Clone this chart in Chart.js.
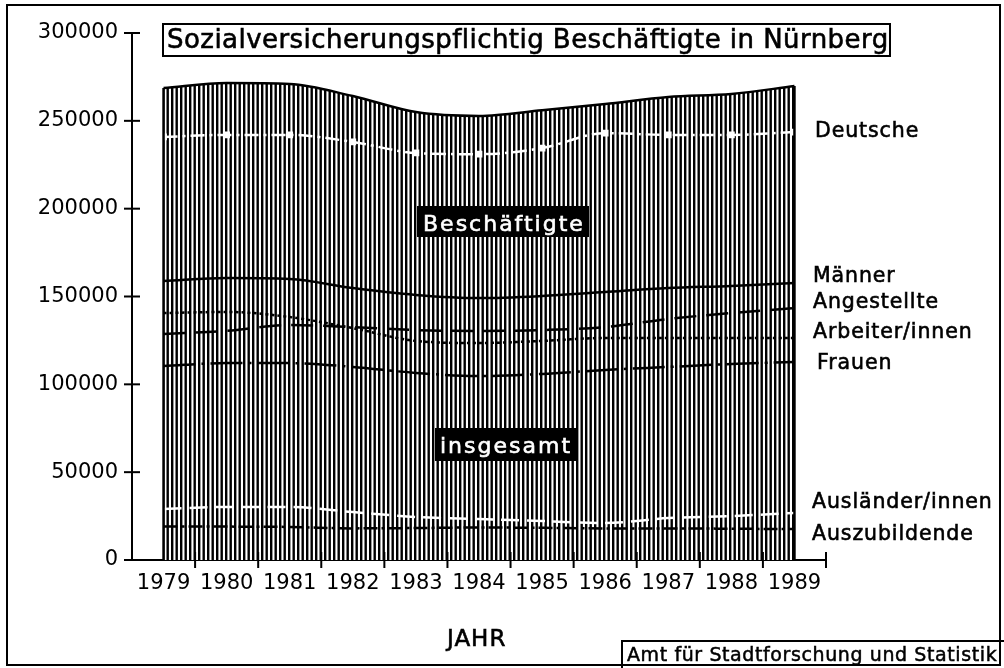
<!DOCTYPE html>
<html>
<head>
<meta charset="utf-8">
<script src="https://cdn.jsdelivr.net/npm/chart.js@4.4.1/dist/chart.umd.min.js"></script>
<style>
  body { margin: 0; background: #fff; }
  #wrap { width: 1004px; height: 668px; }
</style>
</head>
<body>
<div id="wrap"><canvas id="chart"></canvas></div>
<script>
// values
const years = ['1979', '1980', '1981', '1982', '1983', '1984', '1985', '1986', '1987', '1988', '1989'];
const insgesamt = [268700, 271500, 271000, 264100, 255000, 252800, 256000, 259600, 263600, 265300, 269800];
const deutsche = [240800, 242000, 242000, 238000, 231700, 231000, 234500, 243000, 242000, 242000, 243600];
const maenner = [158800, 160500, 160000, 154800, 150900, 149100, 150300, 152600, 154800, 156000, 157700];
const angestellte = [128700, 130400, 133800, 132600, 130900, 130400, 130900, 132600, 137200, 140600, 143400];
const arbeiter = [140600, 141200, 138300, 132000, 124700, 123500, 124700, 126400, 126400, 126400, 126400];
const frauen = [110400, 112100, 112100, 109900, 106500, 104700, 105900, 108200, 109900, 111600, 112700];
const auslaender = [29000, 30200, 30200, 27300, 24500, 23300, 22200, 21000, 23900, 25000, 26800];
const azubis = [19000, 19000, 18800, 18000, 18200, 18500, 18300, 18000, 18000, 17800, 17600];
const yTicks = [0, 50000, 100000, 150000, 200000, 250000, 300000];

const FONT = '"DejaVu Sans", sans-serif';

// vertical hatching for the total area
const hatchCanvas = document.createElement('canvas');
hatchCanvas.width = 9;
hatchCanvas.height = 4;
const hctx = hatchCanvas.getContext('2d');
hctx.fillStyle = '#fff';
hctx.fillRect(0, 0, 9, 4);
hctx.fillStyle = '#000';
hctx.fillRect(0, 0, 2.4, 4);
hctx.fillRect(4.5, 0, 2.4, 4);
const hatch = hctx.createPattern(hatchCanvas, 'repeat');

function lineSet(label, data, color, dash, width, extra) {
  return Object.assign({
    label: label,
    data: data,
    borderColor: color,
    borderWidth: width,
    borderDash: dash,
    pointRadius: 0,
    fill: false,
    cubicInterpolationMode: 'monotone'
  }, extra || {});
}

function text(ctx, s, x, y) {
  ctx.fillText(s, x, y);
  ctx.strokeText(s, x, y);
}

// boxed texts, axis tick crosses, area edges
const decorations = {
  id: 'decorations',
  afterDatasetsDraw(chart) {
    const ctx = chart.ctx;
    const y = chart.scales.y;
    const area = chart.getDatasetMeta(chart.data.datasets.length - 1).data;
    ctx.save();
    ctx.strokeStyle = '#000';
    ctx.lineWidth = 2.5;
    [0, area.length - 1].forEach(i => {
      ctx.beginPath();
      ctx.moveTo(area[i].x, area[i].y);
      ctx.lineTo(area[i].x, y.getPixelForValue(0));
      ctx.stroke();
    });
    ctx.restore();
  },
  afterDraw(chart) {
    const ctx = chart.ctx;
    const x = chart.scales.x, y = chart.scales.y;
    const ca = chart.chartArea;
    ctx.save();
    ctx.strokeStyle = '#000';
    ctx.lineWidth = 2;
    // y tick crosses
    yTicks.forEach(v => {
      const py = y.getPixelForValue(v);
      ctx.beginPath();
      ctx.moveTo(ca.left - 8, py);
      ctx.lineTo(ca.left + 8, py);
      ctx.stroke();
    });
    // x tick crosses at bin edges
    const step = x.getPixelForValue(1) - x.getPixelForValue(0);
    for (let i = 1; i <= years.length; i++) {
      const px = x.getPixelForValue(0) - step / 2 + i * step;
      ctx.beginPath();
      ctx.moveTo(px, ca.bottom - 8);
      ctx.lineTo(px, ca.bottom + 8);
      ctx.stroke();
    }
    // outer frame
    ctx.strokeRect(7, 5, 993, 660);

    ctx.textBaseline = 'alphabetic';
    ctx.textAlign = 'left';
    // title
    ctx.fillStyle = '#fff';
    ctx.fillRect(163, 24, 727, 32);
    ctx.strokeRect(163, 24, 727, 32);
    ctx.font = '26px ' + FONT;
    ctx.letterSpacing = '0.45px';
    ctx.fillStyle = '#000';
    ctx.lineWidth = 0.6;
    text(ctx, 'Sozialversicherungspflichtig Beschäftigte in Nürnberg', 167, 48);

    // black label boxes in the area
    ctx.fillStyle = '#000';
    ctx.fillRect(417, 206, 172, 31);
    ctx.fillRect(435, 428, 142, 33);
    ctx.font = '22px ' + FONT;
    ctx.letterSpacing = '2px';
    ctx.fillStyle = '#fff';
    ctx.strokeStyle = '#fff';
    text(ctx, 'Beschäftigte', 423, 231);
    text(ctx, 'insgesamt', 440, 453);

    // series names
    ctx.fillStyle = '#000';
    ctx.strokeStyle = '#000';
    ctx.font = '20.5px ' + FONT;
    ctx.letterSpacing = '0.9px';
    text(ctx, 'Deutsche', 815, 137);
    text(ctx, 'Männer', 813, 282);
    text(ctx, 'Angestellte', 813, 308);
    text(ctx, 'Arbeiter/innen', 813, 338);
    text(ctx, 'Frauen', 817, 369);
    text(ctx, 'Ausländer/innen', 812, 508);
    text(ctx, 'Auszubildende', 812, 540);

    // axis title and source
    ctx.font = '23px ' + FONT;
    ctx.letterSpacing = '1px';
    text(ctx, 'JAHR', 447, 646);
    ctx.lineWidth = 2;
    ctx.strokeRect(622, 641, 400, 30);
    ctx.font = '19px ' + FONT;
    ctx.letterSpacing = '0.6px';
    ctx.lineWidth = 0.5;
    text(ctx, 'Amt für Stadtforschung und Statistik', 627, 661);
    ctx.restore();
  }
};

new Chart(document.getElementById('chart').getContext('2d'), {
  type: 'line',
  data: {
    labels: years,
    datasets: [
      lineSet('Deutsche', deutsche, '#fff', [14, 5, 3, 5], 2.5,
        { pointRadius: 3, pointStyle: 'rect', pointBackgroundColor: '#fff', pointBorderColor: '#fff' }),
      lineSet('Männer', maenner, '#000', [], 2.5),
      lineSet('Angestellte', angestellte, '#000', [22, 10], 2.5),
      lineSet('Arbeiter/innen', arbeiter, '#000', [3, 3], 2.5),
      lineSet('Frauen', frauen, '#000', [32, 6, 3, 6], 2.5),
      lineSet('Ausländer/innen', auslaender, '#fff', [18, 8], 2.5),
      lineSet('Auszubildende', azubis, '#000', [14, 4, 3, 4], 2.5),
      {
        label: 'insgesamt',
        data: insgesamt,
        borderColor: '#000',
        borderWidth: 2.5,
        backgroundColor: hatch,
        fill: 'origin',
        pointRadius: 0,
        cubicInterpolationMode: 'monotone'
      }
    ]
  },
  options: {
    responsive: true,
    maintainAspectRatio: false,
    animation: false,
    layout: { padding: { left: 0, top: 33, right: 178, bottom: 0 } },
    plugins: {
      legend: { display: false },
      tooltip: { enabled: false },
      title: { display: false }
    },
    scales: {
      x: {
        type: 'category',
        offset: true,
        grid: { display: false, drawTicks: false },
        border: { display: true, color: '#000', width: 2 },
        ticks: { color: '#000', font: { family: FONT, size: 21 }, padding: 11, maxRotation: 0, autoSkip: false },
        afterFit: s => { s.height = 108; }
      },
      y: {
        min: 0,
        max: 300000,
        grid: { display: false, drawTicks: false },
        border: { display: true, color: '#000', width: 2 },
        ticks: { stepSize: 50000, color: '#000', font: { family: FONT, size: 21 }, padding: 14,
          callback: v => String(v) },
        afterFit: s => { s.width = 132; }
      }
    }
  },
  plugins: [decorations]
});
</script>
</body>
</html>
